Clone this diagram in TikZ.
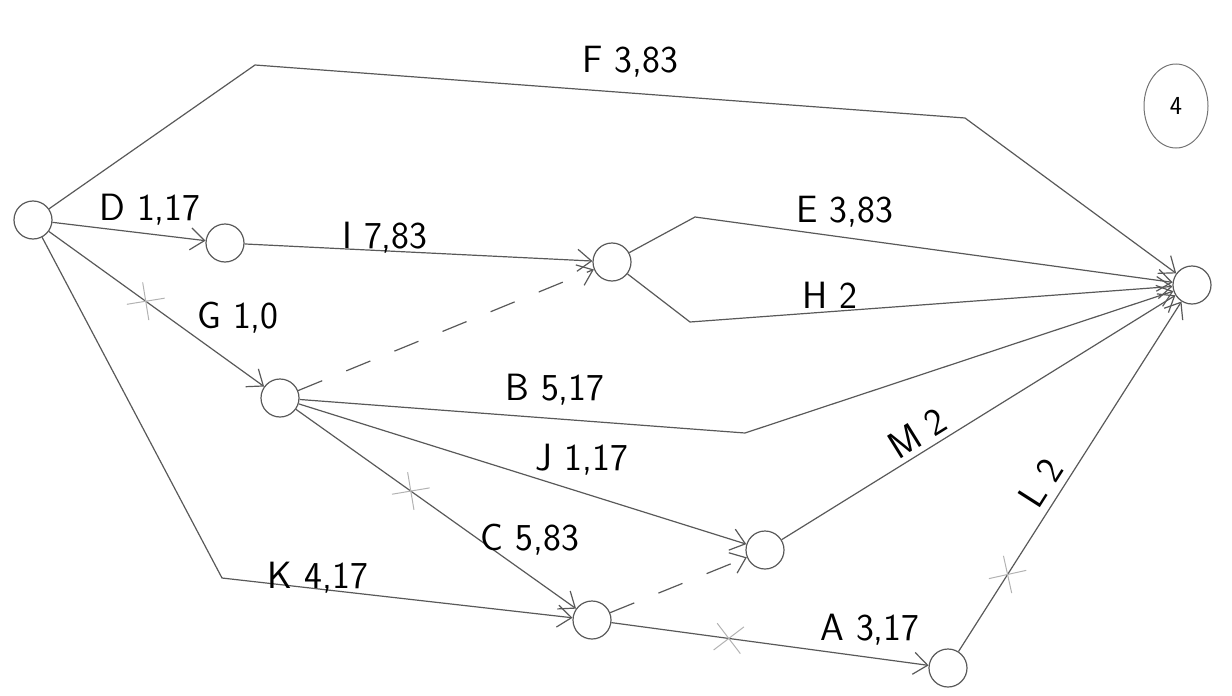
\documentclass[tikz,border=0pt]{standalone}
\usepackage{tikz}
\usetikzlibrary{arrows.meta,shapes.misc,shapes.geometric}

\tikzset{
  ev/.style={circle,draw=black!65,line width=1.2pt,minimum size=38pt,inner sep=0pt},
  act/.style={draw=black!65,line width=1.2pt,-{Straight Barb[length=14pt,width=22pt]}},
  dummy/.style={act,dash pattern=on 26pt off 26pt},
  crit/.style={cross out,draw=black!30,line width=1pt,minimum size=26pt,inner sep=0pt,sloped}
}

\begin{document}
\begin{tikzpicture}[x=1pt,y=-1pt,font=\fontsize{38}{40}\selectfont\sffamily]
\useasboundingbox (0,0) rectangle (1232,696);

% events
\node[ev] (n1) at (33,220) {};
\node[ev] (n2) at (225,243) {};
\node[ev] (n3) at (612,262) {};
\node[ev] (n4) at (280,398) {};
\node[ev] (n5) at (1192,285) {};
\node[ev] (n6) at (765,550) {};
\node[ev] (n7) at (592,620) {};
\node[ev] (n8) at (948,668) {};

% sheet number
\node[ellipse,draw=black!55,line width=1pt,minimum width=64pt,minimum height=84pt,inner sep=0pt,font=\fontsize{26}{26}\selectfont\sffamily] (page) at (1176,106) {4};

% bends
\coordinate (f1) at (255,65);
\coordinate (f2) at (965,118);
\coordinate (e1) at (695,217);
\coordinate (h1) at (690,322);
\coordinate (b1) at (745,433);
\coordinate (k1) at (222,578);

% activities
\draw[act] (n1) -- (f1) -- (f2) -- (n5);
\node at (630,62) {F 3,83};

\draw[act] (n1) -- (n2);
\node at (150,210) {D 1,17};

\draw[act] (n2) -- (n3);
\node at (385,238) {I 7,83};

\draw[act] (n3) -- (e1) -- (n5);
\node at (845,212) {E 3,83};

\draw[act] (n3) -- (h1) -- (n5);
\node at (830,295) {H 2};

\draw[act] (n1) -- node[crit,pos=0.45] (x1) {} (n4);
\node at (238,318) {G 1,0};

\draw[dummy] (n4) -- (n3);

\draw[act] (n4) -- (b1) -- (n5);
\node at (555,390) {B 5,17};

\draw[act] (n4) -- (n6);
\node at (582,460) {J 1,17};

\draw[act] (n4) -- node[crit,pos=0.41] (x2) {} (n7);
\node at (530,540) {C 5,83};

\draw[act] (n1) -- (k1) -- (n7);
\node at (318,578) {K 4,17};

\draw[dummy] (n7) -- (n6);

\draw[act] (n6) -- node[sloped,above=2pt,pos=0.37] (lm) {M 2} (n5);

\draw[act] (n7) -- node[crit,pos=0.37] (x3) {} (n8);
\node at (870,630) {A 3,17};

\draw[act] (n8) -- node[crit,pos=0.22] (x4) {} node[sloped,above=4pt,pos=0.45] (ll) {L 2} (n5);

\end{tikzpicture}
\end{document}
